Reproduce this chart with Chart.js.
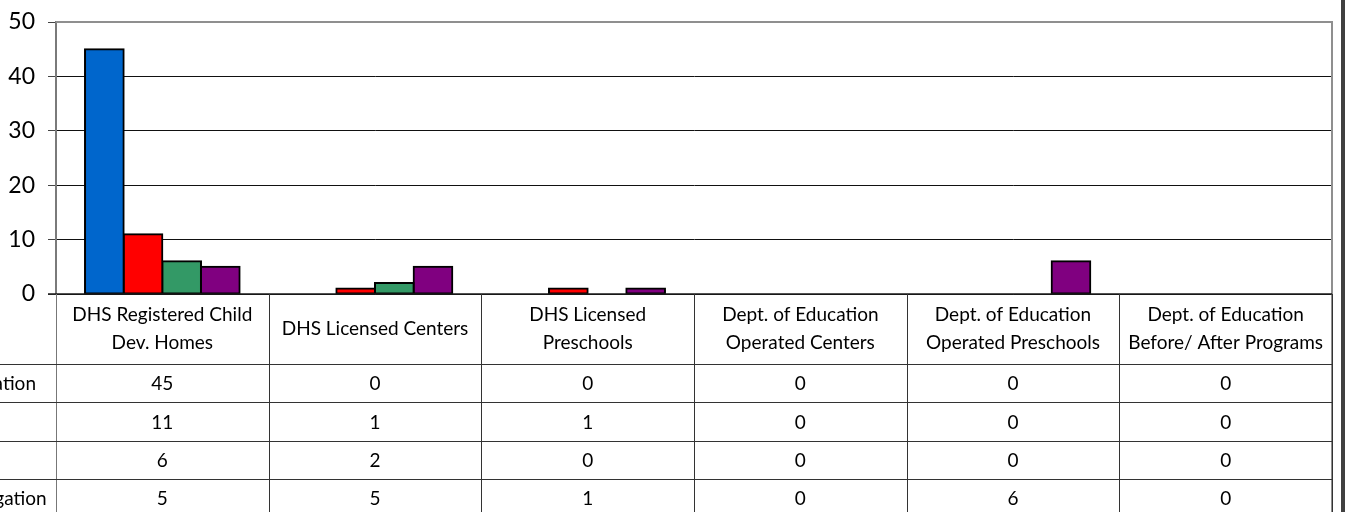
<!DOCTYPE html>
<html>
<head>
<meta charset="utf-8">
<script src="https://cdn.jsdelivr.net/npm/chart.js@4.4.1/dist/chart.umd.min.js"></script>
<style>
  html, body { margin: 0; padding: 0; background: #fff; }
  #wrap { width: 1345px; height: 512px; position: relative; }
</style>
</head>
<body>
<div id="wrap"><canvas id="c" width="1345" height="512"></canvas></div>
<script>
// ---- data ----
const categories = [
  ["DHS Registered Child", "Dev. Homes"],
  ["DHS Licensed Centers"],
  ["DHS Licensed", "Preschools"],
  ["Dept. of Education", "Operated Centers"],
  ["Dept. of Education", "Operated Preschools"],
  ["Dept. of Education", "Before/ After Programs"]
];
const seriesNames = ["Open Investigation", "Founded", "Unfounded", "Closed Investigation"];
const series1 = [45, 0, 0, 0, 0, 0];
const series2 = [11, 1, 1, 0, 0, 0];
const series3 = [6, 2, 0, 0, 0, 0];
const series4 = [5, 5, 1, 0, 6, 0];
const seriesColors = ["#0066CC", "#FF0000", "#339966", "#800080"];
const yTicks = [0, 10, 20, 30, 40, 50];

const allSeries = [series1, series2, series3, series4];
const FONT = "Lato, 'Open Sans', sans-serif";

const tablePlugin = {
  id: 'dataTable',
  afterDraw(chart) {
    const ctx = chart.ctx;
    const ca = chart.chartArea;
    const x = chart.scales.x;
    const n = categories.length;
    const catW = (ca.right - ca.left) / n;
    const headerH = 70;
    const rowH = 38.3;
    ctx.save();
    // plot border top & right (grey)
    ctx.strokeStyle = '#8f8f8f';
    ctx.lineWidth = 2;
    ctx.beginPath();
    ctx.moveTo(ca.left, ca.top);
    ctx.lineTo(ca.right, ca.top);
    ctx.lineTo(ca.right, chart.height);
    ctx.stroke();
    // axis line
    ctx.strokeStyle = '#1a1a1a';
    ctx.lineWidth = 1.5;
    ctx.beginPath();
    ctx.moveTo(ca.left - 8, ca.bottom);
    ctx.lineTo(ca.right, ca.bottom);
    ctx.stroke();
    // vertical table lines
    ctx.lineWidth = 1;
    for (let i = 0; i <= n; i++) {
      const xx = Math.round(ca.left + i * catW) + 0.5;
      ctx.strokeStyle = (i === 0) ? '#777' : '#333';
      ctx.beginPath();
      ctx.moveTo(xx, ca.bottom);
      ctx.lineTo(xx, chart.height);
      ctx.stroke();
    }
    // horizontal row lines
    ctx.strokeStyle = '#333';
    for (let r = 0; r <= allSeries.length; r++) {
      const yy = Math.round(ca.bottom + headerH + r * rowH) + 0.5;
      ctx.beginPath();
      ctx.moveTo(0, yy);
      ctx.lineTo(ca.right, yy);
      ctx.stroke();
    }
    // header labels
    ctx.fillStyle = '#000';
    ctx.font = '19px ' + FONT;
    ctx.textAlign = 'center';
    ctx.textBaseline = 'middle';
    const hc = ca.bottom + headerH / 2;
    categories.forEach((lines, i) => {
      const cx = x.getPixelForValue(i);
      if (lines.length === 1) {
        ctx.fillText(lines[0], cx, hc);
      } else {
        ctx.fillText(lines[0], cx, hc - 14);
        ctx.fillText(lines[1], cx, hc + 14);
      }
    });
    // values
    allSeries.forEach((vals, r) => {
      const cy = ca.bottom + headerH + r * rowH + rowH / 2 + 1;
      vals.forEach((v, i) => {
        ctx.fillText(String(v), x.getPixelForValue(i), cy);
      });
    });
    // series names (left column, mostly cropped)
    ctx.textAlign = 'left';
    const startX = 36 - ctx.measureText(seriesNames[0]).width;
    seriesNames.forEach((name, r) => {
      const cy = ca.bottom + headerH + r * rowH + rowH / 2 + 1;
      ctx.fillText(name, startX, cy);
    });
    // outer frame bar at right
    ctx.fillStyle = '#404040';
    ctx.fillRect(1341, 0, 4, chart.height);
    ctx.restore();
  }
};

new Chart(document.getElementById('c'), {
  type: 'bar',
  data: {
    labels: categories.map(c => c.join(' ')),
    datasets: allSeries.map((d, i) => ({
      label: seriesNames[i],
      data: d,
      backgroundColor: seriesColors[i],
      borderColor: '#000',
      borderWidth: 2,
      borderSkipped: false,
      inflateAmount: 1,
      categoryPercentage: 0.727,
      barPercentage: 1.0
    }))
  },
  options: {
    responsive: false,
    animation: false,
    devicePixelRatio: 1,
    layout: { padding: { top: 22, right: 13, bottom: 218, left: 0 } },
    plugins: { legend: { display: false }, tooltip: { enabled: false } },
    scales: {
      x: { display: false },
      y: {
        min: 0, max: 50,
        afterFit(scale) { scale.width = 56; scale.paddingTop = 0; scale.paddingBottom = 0; },
        afterBuildTicks(scale) { scale.ticks = yTicks.map(v => ({ value: v })); },
        ticks: { color: '#000', font: { size: 23, family: FONT }, padding: 13 },
        grid: {
          color: ctx => (ctx.tick && ctx.tick.value === 50) ? 'rgba(0,0,0,0)' : '#111',
          tickColor: '#444',
          tickLength: 8,
          lineWidth: 1
        },
        border: { display: true, color: '#7a7a7a', width: 2 }
      }
    }
  },
  plugins: [tablePlugin]
});
</script>
</body>
</html>
